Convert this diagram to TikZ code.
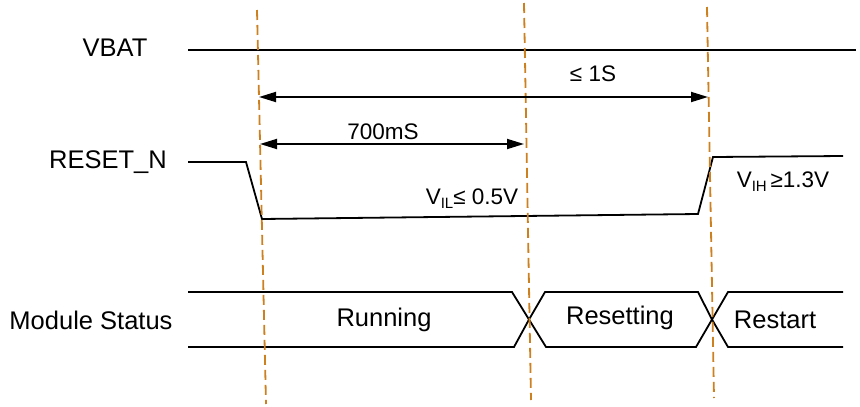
\documentclass[tikz,border=0pt]{standalone}
\usepackage{fontspec}
\setmainfont{Liberation Sans}
\usetikzlibrary{arrows.meta}
\usetikzlibrary{positioning}
\newcommand{\lowidx}[1]{\raisebox{-0.35ex}{\fontsize{15}{15}\selectfont #1}}

\begin{document}
\begin{tikzpicture}[
		x=1pt,y=-1pt,
		signal/.style={line width=1.8pt,line join=miter},
		marker/.style={line width=1.8pt,draw={rgb,255:red,204;green,128;blue,32},dash pattern=on 10pt off 5pt},
		span/.style={line width=1.8pt,{Triangle[length=17pt,width=10pt]}-{Triangle[length=17pt,width=10pt]}},
		signame/.style={font=\fontsize{25.5}{29}\selectfont},
		note/.style={font=\fontsize{22.5}{26}\selectfont,inner sep=0pt}
	]
	\useasboundingbox (0,0) rectangle (860,407);

	% signal names
	\node [signame] (vbat-name) at (115,48) {VBAT};
	\node [signame] (reset-name) at (108,162) {RESET\_N};
	\node [signame] (status-name) at (91,320) {Module Status};

	% VBAT
	\coordinate (vbat-L) at (188,50);
	\coordinate (vbat-R) at (856,50);
	\draw [signal] (vbat-L) -- (vbat-R);

	% RESET_N
	\coordinate (rst-A) at (188,162);
	\coordinate (rst-B) at (246,162);
	\coordinate (rst-C) at (262,219);
	\coordinate (rst-D) at (698,214);
	\coordinate (rst-E) at (713,157);
	\coordinate (rst-F) at (843,156);
	\draw [signal] (rst-A) -- (rst-B) -- (rst-C) -- (rst-D) -- (rst-E) -- (rst-F);
	\node [note] (vil) at (472,199) {V\lowidx{IL}≤ 0.5V};
	\node [note] (vih) at (783,182) {V\lowidx{IH}\,≥1.3V};

	% Module Status bus
	\coordinate (bus-T0) at (188,292);
	\coordinate (bus-B0) at (188,347);
	\coordinate (x1) at (529,319.5);
	\coordinate (x2) at (712,319.5);
	\draw [signal] (bus-T0) -- (512,292) -- (x1) -- (546,347) -- (696,347) -- (x2) -- (728,292) -- (843,292);
	\draw [signal] (bus-B0) -- (514,347) -- (x1) -- (545,292) -- (698,292) -- (x2) -- (728,347) -- (843,347);
	\node [signame] (running) at (384,320) {Running};
	\node [signame] (resetting) at (620,318) {Resetting};
	\node [signame] (restart) at (775,320) {Restart};

	% time markers
	\coordinate (m1-top) at (257,10);
	\coordinate (m1-bot) at (266,404);
	\coordinate (m2-top) at (524,3);
	\coordinate (m2-bot) at (531,400);
	\coordinate (m3-top) at (707,7);
	\coordinate (m3-bot) at (714,398);
	\draw [marker] (m1-top) -- (m1-bot);
	\draw [marker] (m2-top) -- (m2-bot);
	\draw [marker] (m3-top) -- (m3-bot);

	% durations
	\coordinate (long-L) at (259,97);
	\coordinate (long-R) at (708,97);
	\coordinate (short-L) at (260,144);
	\coordinate (short-R) at (524,144);
	\draw [span] (long-L) -- (long-R);
	\draw [span] (short-L) -- (short-R);
	\node [note] (one-s) at (593,74) {≤ 1S};
	\node [note] (ms700) at (383,132) {700mS};
\end{tikzpicture}
\end{document}
